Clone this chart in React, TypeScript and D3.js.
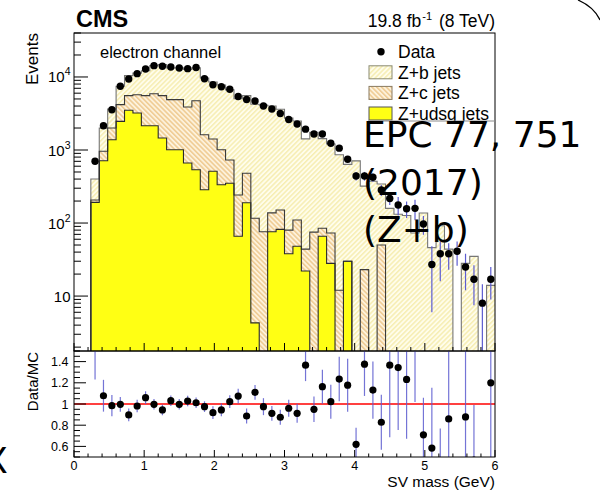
import React from "react";
import * as d3 from "d3";

// SV mass binning (GeV)
const X_MIN = 0;
const X_MAX = 6;
const N_BINS = 50;
const BIN_W = (X_MAX - X_MIN) / N_BINS;

// Vertical ranges of the two panels
const Y_MIN = 1.77;
const Y_MAX = 40000;
const R_MIN = 0.5;
const R_MAX = 1.5;

// Simulated components (events per bin)
const zUdsgJets = [0, 0, 192, 713, 1384, 2470, 3500, 3210, 2150, 2150, 1460, 1010, 1010, 664, 537, 286, 511, 335, 350, 66, 190, 4.3, 0, 76, 82, 38, 48, 22, 0, 66, 28, 0, 30, 0, 0, 0, 0, 0, 0, 0, 0, 0, 0, 0, 0, 0, 0, 0, 0, 0];
const zCJets = [0, 0, 15, 247, 616, 1710, 2050, 2510, 3400, 3750, 4090, 3880, 3880, 3216, 4193, 1334, 904, 675, 380, 176, 290, 112, 76, 62, 69, 42, 62, 22, 75, 19, 45, 12, 0, 0, 23, 0, 50, 0, 0, 0, 0, 0, 0, 0, 0, 0, 0, 0, 0, 0];
const zBJets = [0, 0, 194, 1034, 1650, 3300, 4900, 5580, 6590, 8420, 9290, 8410, 8430, 8770, 8610, 8070, 7105, 6770, 5920, 4788, 5070, 4114, 4034, 3862, 3459, 2650, 2380, 1376, 1675, 1345, 1137, 848, 605, 711, 297, 374, 292, 159, 132, 127, 73, 137, 46, 92, 44, 0, 28, 35, 0, 14];

// Observed events and their uncertainties
const dataEvents: (number | null)[] = [null, null, 700, 2150, 3565, 7460, 9390, 11100, 12870, 14280, 14010, 13710, 13280, 13000, 13500, 9450, 7820, 7340, 6800, 5410, 4920, 4690, 4010, 3650, 3160, 2620, 2270, 1930, 1660, 1660, 1240, 1060, 748, 441, 441, 423, 283, 217, 177, 157, 159, 97, 27, 38, 38, 41, 25, 17, 8, 17];
const dataErr = [0, 0, 26, 46, 60, 86, 97, 105, 113, 120, 118, 117, 115, 114, 116, 97, 88, 86, 82, 74, 110, 110, 105, 100, 100, 110, 110, 110, 110, 110, 100, 95, 80, 60, 60, 55, 48, 41, 50, 40, 50, 28, 21, 22, 15, 15, 13, 9.5, 6.5, 8];

// Data / MC ratio and its uncertainty
const ratioVals: (number | null)[] = [null, null, 1.75, 1.078, 0.984, 0.997, 0.897, 0.981, 1.06, 0.997, 0.944, 1.031, 0.997, 1.028, 1.012, 0.975, 0.918, 0.944, 1.022, 1.075, 0.887, 1.11, 0.975, 0.912, 0.875, 0.96, 0.912, 1.366, 0.95, 1.163, 1.022, 1.235, 1.178, 0.62, 1.376, 1.131, 0.828, 1.366, 1.344, 1.232, 2.18, 0.709, 0.584, 0.41, 0.859, null, 0.878, 0.47, null, 1.2];
const ratioErr = [0, 0, 0.52, 0.15, 0.1, 0.07, 0.06, 0.06, 0.06, 0.05, 0.05, 0.05, 0.05, 0.05, 0.05, 0.05, 0.06, 0.06, 0.06, 0.07, 0.07, 0.07, 0.08, 0.07, 0.07, 0.08, 0.09, 0.15, 0.12, 0.16, 0.16, 0.21, 0.25, 0.155, 0.3, 0.27, 0.26, 0.68, 0.59, 0.56, 1.16, 0.35, 0.57, 0.36, 0.9, 0, 0.9, 0.52, 0, 1.0];

const legendLabels = ["Data", "Z+b jets", "Z+c jets", "Z+udsg jets"];
const overlayLines = ["EPC 77, 751", "(2017)", "(Z+b)"];

const FONT = "'Liberation Sans', Arial, Helvetica, sans-serif";
const ERR_BLUE = "#5c5cd0";
const LOG_FLOOR = 0.5;

type StepPt = { x: number; lo: number; hi: number };

export default function App() {
  const W = 600;
  const H = 497;
  const L = 74;
  const R = 495;
  const T = 33;
  const MID = 351;
  const B = 457;

  const x = d3.scaleLinear().domain([X_MIN, X_MAX]).range([L, R]);
  const y = d3.scaleLog().domain([Y_MIN, Y_MAX]).range([MID, T]);
  const yr = d3.scaleLinear().domain([R_MIN, R_MAX]).range([B, MID]);

  const rows = d3.range(N_BINS).map((i) => ({
    udsg: zUdsgJets[i],
    c: zCJets[i],
    b: zBJets[i],
  }));
  const stacked = d3.stack<any>().keys(["udsg", "c", "b"])(rows);

  const toSteps = (layer: d3.Series<any, string>): StepPt[] => {
    const pts = layer.map((d, i) => ({ x: X_MIN + i * BIN_W, lo: d[0], hi: d[1] }));
    const last = layer[N_BINS - 1];
    pts.push({ x: X_MAX, lo: last[0], hi: last[1] });
    return pts;
  };
  const clampLog = (v: number) => y(Math.max(v, LOG_FLOOR));
  const area = d3
    .area<StepPt>()
    .curve(d3.curveStepAfter)
    .x((d) => x(d.x))
    .y0((d) => clampLog(d.lo))
    .y1((d) => clampLog(d.hi));
  const outline = d3
    .line<StepPt>()
    .curve(d3.curveStepAfter)
    .x((d) => x(d.x))
    .y((d) => clampLog(d.hi));

  const layerStyle: Record<string, { fill: string; stroke: string }> = {
    b: { fill: "url(#hatchB)", stroke: "#767676" },
    c: { fill: "url(#hatchC)", stroke: "#3a3a3a" },
    udsg: { fill: "#ffff14", stroke: "#2a2a2a" },
  };
  const drawOrder = ["b", "c", "udsg"];
  const layers = drawOrder.map((k) => {
    const s = stacked.find((l) => l.key === k)!;
    const pts = toSteps(s);
    return { key: k, area: area(pts) || "", line: outline(pts) || "" };
  });

  const binCenter = (i: number) => X_MIN + (i + 0.5) * BIN_W;

  // axis ticks
  const xMajor = x.ticks(6);
  const xMinor = x.ticks(30);
  const logTicks = y.ticks().filter((v) => v >= Y_MIN && v <= Y_MAX);
  const isPow10 = (v: number) => Math.abs(Math.log10(v) - Math.round(Math.log10(v))) < 1e-9;
  const rMajor = yr.ticks(5).filter((v) => v > R_MIN && v < R_MAX);
  const rMinor = yr.ticks(20);
  const fmtR = d3.format("~g");

  const legendY0 = 51.7;
  const legendDy = 20.6;

  return (
    <svg
      width={W}
      height={H}
      viewBox={`0 0 ${W} ${H}`}
      style={{ position: "absolute", left: 0, top: 0, background: "#fff" }}
      fontFamily={FONT}
    >
      <defs>
        <pattern id="hatchB" patternUnits="userSpaceOnUse" width="3.4" height="3.4" patternTransform="rotate(45)">
          <rect width="3.4" height="3.4" fill="#fffdeb" />
          <line x1="0.8" y1="0" x2="0.8" y2="3.4" stroke="#f3e89e" strokeWidth="1.1" />
        </pattern>
        <pattern id="hatchC" patternUnits="userSpaceOnUse" width="3.4" height="3.4" patternTransform="rotate(-45)">
          <rect width="3.4" height="3.4" fill="#fdf2dc" />
          <line x1="0.8" y1="0" x2="0.8" y2="3.4" stroke="#eabb74" strokeWidth="1.1" />
        </pattern>
        <clipPath id="clipMain">
          <rect x={L} y={T} width={R - L} height={MID - T} />
        </clipPath>
        <clipPath id="clipRatio">
          <rect x={L} y={MID} width={R - L} height={B - MID} />
        </clipPath>
        <clipPath id="clipLegend">
          <rect x={360} y={T} width={R - 360} height={121 - T} />
        </clipPath>
      </defs>

      <rect x={0} y={0} width={W} height={H} fill="#fff" />

      {/* stacked simulation */}
      <g clipPath="url(#clipMain)">
        {layers.map((l) => (
          <path key={`a-${l.key}`} d={l.area} fill={layerStyle[l.key].fill} stroke="none" />
        ))}
        {layers.map((l) => (
          <path key={`l-${l.key}`} d={l.line} fill="none" stroke={layerStyle[l.key].stroke} strokeWidth={1.1} />
        ))}
        {/* data */}
        {dataEvents.map((v, i) => {
          if (v == null) return null;
          const cx = x(binCenter(i));
          const e = dataErr[i];
          return (
            <g key={`d-${i}`}>
              <line x1={cx} x2={cx} y1={clampLog(v + e)} y2={clampLog(v - e)} stroke={ERR_BLUE} strokeWidth={1.2} />
              <circle cx={cx} cy={y(v)} r={3.7} fill="#000" />
            </g>
          );
        })}
      </g>

      {/* main frame and axes */}
      <rect x={L} y={T} width={R - L} height={MID - T} fill="none" stroke="#000" strokeWidth={1} />
      {xMinor.map((t) => (
        <line key={`xm-${t}`} x1={x(t)} x2={x(t)} y1={MID} y2={MID - (xMajor.includes(t) ? 8 : 4)} stroke="#000" strokeWidth={1} />
      ))}
      {logTicks.map((t) => (
        <line key={`yl-${t}`} x1={L} x2={L + (isPow10(t) ? 14 : 7)} y1={y(t)} y2={y(t)} stroke="#000" strokeWidth={1} />
      ))}
      {logTicks.filter(isPow10).map((t) => {
        const e = Math.round(Math.log10(t));
        return (
          <text key={`yt-${t}`} x={70.5} y={y(t) + 5.5} textAnchor="end" fontSize={15} fill="#000">
            10
            {e !== 1 && (
              <tspan fontSize={10.5} dy={-7}>
                {e}
              </tspan>
            )}
          </text>
        );
      })}
      <text transform={`translate(38,${T}) rotate(-90)`} textAnchor="end" fontSize={17} fill="#000">
        Events
      </text>

      {/* ratio panel */}
      <g clipPath="url(#clipRatio)">
        <line x1={L} x2={R} y1={yr(1)} y2={yr(1)} stroke="#ff0000" strokeWidth={1.6} />
        {ratioVals.map((v, i) => {
          if (v == null) return null;
          const cx = x(binCenter(i));
          const e = ratioErr[i];
          return (
            <g key={`r-${i}`}>
              <line x1={cx} x2={cx} y1={yr(v + e)} y2={yr(v - e)} stroke={ERR_BLUE} strokeWidth={1.2} opacity={0.85} />
              <circle cx={cx} cy={yr(v)} r={3.6} fill="#000" />
            </g>
          );
        })}
      </g>
      <rect x={L} y={MID} width={R - L} height={B - MID} fill="none" stroke="#000" strokeWidth={1} />
      {xMinor.map((t) => (
        <line key={`rxm-${t}`} x1={x(t)} x2={x(t)} y1={B} y2={B - (xMajor.includes(t) ? 7 : 3.5)} stroke="#000" strokeWidth={1} />
      ))}
      {rMinor.map((t) => (
        <line key={`rym-${t}`} x1={L} x2={L + (rMajor.some((m) => Math.abs(m - t) < 1e-9) ? 12 : 6)} y1={yr(t)} y2={yr(t)} stroke="#000" strokeWidth={1} />
      ))}
      {rMajor.map((t) => (
        <text key={`ryt-${t}`} x={68.5} y={yr(t) + 4.5} textAnchor="end" fontSize={12.5} fill="#000">
          {fmtR(t)}
        </text>
      ))}
      {xMajor.map((t) => (
        <text key={`xt-${t}`} x={x(t)} y={470} textAnchor="middle" fontSize={12.5} fill="#000">
          {t}
        </text>
      ))}
      <text transform={`translate(38,${MID + 1}) rotate(-90)`} textAnchor="end" fontSize={15} fill="#000">
        Data/MC
      </text>
      <text x={R} y={487} textAnchor="end" fontSize={15.5} fill="#000">
        SV mass (GeV)
      </text>

      {/* headers */}
      <text x={76} y={26.5} fontSize={23.5} fontWeight="bold" fill="#000">
        CMS
      </text>
      <text x={R} y={26.5} textAnchor="end" fontSize={17.5} fill="#000">
        19.8 fb
        <tspan fontSize={11} dy={-7} dx={1}>
          -1
        </tspan>
        <tspan dy={7} dx={2}>
          {" (8 TeV)"}
        </tspan>
      </text>
      <text x={100} y={58.3} fontSize={16.5} fill="#000">
        electron channel
      </text>

      {/* legend */}
      <g clipPath="url(#clipLegend)">
        {legendLabels.map((lab, i) => {
          const cy = legendY0 + i * legendDy;
          const fill = i === 1 ? "url(#hatchB)" : i === 2 ? "url(#hatchC)" : "#ffff14";
          const stroke = i === 1 ? "#8a8a70" : i === 2 ? "#8a7a60" : "#555";
          return (
            <g key={`lg-${i}`}>
              {i === 0 ? (
                <circle cx={381} cy={cy} r={3.7} fill="#000" />
              ) : (
                <rect x={369} y={cy - 6.5} width={23} height={13} fill={fill} stroke={stroke} strokeWidth={1} />
              )}
              <text x={398} y={cy + 6.3} fontSize={17.5} fill="#000">
                {lab}
              </text>
            </g>
          );
        })}
      </g>
      <line x1={368} x2={R} y1={121} y2={121} stroke="#8c8c8c" strokeWidth={1} />

      {/* publication reference */}
      {overlayLines.map((t, i) => (
        <text key={`ov-${i}`} x={363} y={147 + i * 47.5} fontFamily="'DejaVu Sans', sans-serif" fontSize={36} fill="#000">
          {t}
        </text>
      ))}
      <text x={-16.7} y={473} fontFamily="'DejaVu Sans', sans-serif" fontSize={36} fill="#000">
        X
      </text>
      <path d="M578,0 Q594,7 600,20" fill="none" stroke="#000" strokeWidth={1.2} />
    </svg>
  );
}
